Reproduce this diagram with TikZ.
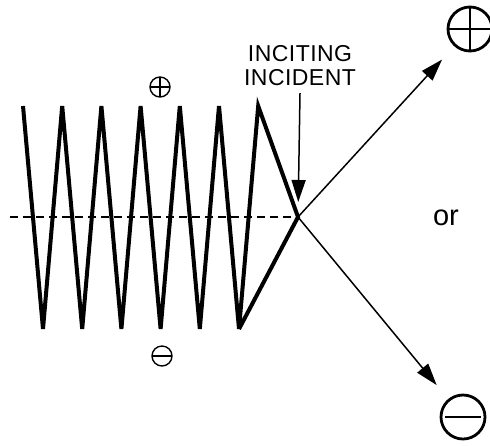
\documentclass[tikz,border=0pt]{standalone}
\usepackage{fontspec}
\setmainfont{Liberation Sans}
\usetikzlibrary{arrows.meta,positioning}

\begin{document}
\begin{tikzpicture}[x=0.5pt,y=-0.5pt,>={Triangle[length=11pt,width=7pt]},
  zig/.style={line width=2pt},
  thinarrow/.style={->,line width=0.75pt},
  smallsign/.style={circle,draw,line width=0.7pt,minimum size=10pt,inner sep=0pt},
  bigsign/.style={circle,draw,line width=1.4pt,minimum size=22pt,inner sep=0pt}]
  \useasboundingbox (0,0) rectangle (490,445);
  \coordinate (cross) at (298,217);
  % axis
  \draw[line width=1pt,dash pattern=on 4pt off 2.5pt] (10,217) -- (cross);
  % zigzag
  \draw[zig] (23,106) \foreach \k in {0,...,5} { -- ({43+39.2*\k},329) -- ({62.2+39.2*\k},106) }
    -- (cross) -- (239,329);
  % small signs
  \node[smallsign,path picture={\draw[line width=0.7pt]
    (path picture bounding box.west) -- (path picture bounding box.east)
    (path picture bounding box.north) -- (path picture bounding box.south);}] (up) at (160,87) {};
  \node[smallsign,path picture={\draw[line width=0.7pt]
    (path picture bounding box.west) -- (path picture bounding box.east);}] (down) at (162,356) {};
  % label
  \node[align=center,font=\fontsize{11.5}{12}\selectfont\addfontfeatures{LetterSpace=2}] (inciting) at (300,66) {INCITING\\INCIDENT};
  \draw[thinarrow,shorten >=7.5pt] (inciting.south) -- (cross);
  % outcomes
  \node[bigsign,path picture={\draw[line width=1.4pt]
    (path picture bounding box.west) -- (path picture bounding box.east)
    (path picture bounding box.north) -- (path picture bounding box.south);}] (plus) at (470,29) {};
  \node[bigsign,path picture={\draw[line width=1.4pt]
    ([xshift=2pt]path picture bounding box.west) -- ([xshift=-2pt]path picture bounding box.east);}] (minus) at (463,417) {};
  \draw[thinarrow,shorten >=9pt] (cross) -- (plus);
  \draw[thinarrow,shorten >=9pt] (cross) -- (minus);
  \node[font=\fontsize{14.5}{16}\selectfont] (or) at (446,218) {or};
\end{tikzpicture}
\end{document}
